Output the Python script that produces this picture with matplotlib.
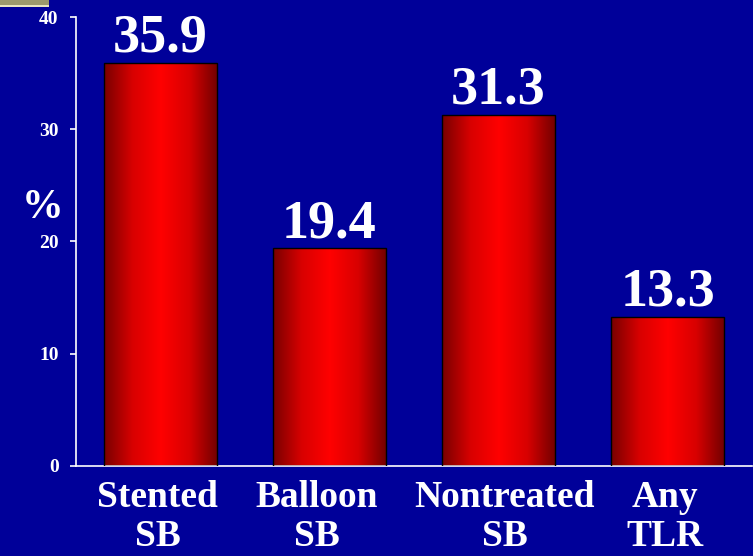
import numpy as np
import matplotlib.pyplot as plt
from matplotlib.patches import Rectangle
from matplotlib.colors import LinearSegmentedColormap
from matplotlib.transforms import ScaledTranslation

categories = ["Stented\nSB", "Balloon\nSB", "Nontreated\nSB", "Any\nTLR"]
values = [35.9, 19.4, 31.3, 13.3]
yticks = [0, 10, 20, 30, 40]

bg = "#000099"
plt.rcParams['font.family'] = ['Liberation Serif', 'DejaVu Serif']
plt.rcParams['font.weight'] = 'bold'

fig = plt.figure(figsize=(7.53, 5.56), dpi=100, facecolor=bg)
ax = fig.add_axes([0.1009, 0.1619, 0.8978, 0.8075], facecolor=bg)

x = np.arange(len(values))
bars = ax.bar(x, values, width=0.67, color="none", edgecolor="black",
              linewidth=1.0, zorder=3)

# horizontal red shading inside each bar
red = LinearSegmentedColormap.from_list(
    "redbar", ["#780000", "#d80000", "#ff0000", "#d80000", "#700000"])
grad = np.linspace(0, 1, 256).reshape(1, -1)
for b in bars:
    x0, y0 = b.get_x(), b.get_y()
    w, h = b.get_width(), b.get_height()
    im = ax.imshow(grad, cmap=red, aspect="auto", extent=[x0, x0 + w, y0, y0 + h],
                   zorder=2, interpolation="bilinear")
    im.set_clip_path(b)

for xi, v in zip(x, values):
    ax.text(xi, v + 1.0, f"{v}", ha="center", va="baseline", color="white",
            fontsize=39, fontweight="bold")

ax.set_xlim(-0.5, 3.5)
ax.set_ylim(0, 40)
ax.set_yticks(yticks)
ax.set_yticklabels([str(t) for t in yticks], fontsize=14, fontweight="bold", color="white")
ax.tick_params(axis="y", colors="white", length=4.5, width=1.2, direction="out", pad=8)
ax.set_xticks(x)
ax.set_xticklabels(categories, fontsize=27, fontweight="bold", color="white",
                   linespacing=1.15)
ax.tick_params(axis="x", length=0, pad=10)

# nudge the category labels sideways a little (in pixels)
shifts = [-3, -13, 6, -3]
for lab, dx in zip(ax.get_xticklabels(), shifts):
    lab.set_transform(lab.get_transform() + ScaledTranslation(dx / 100, 0, fig.dpi_scale_trans))

for s in ["top", "right"]:
    ax.spines[s].set_visible(False)
for s in ["left", "bottom"]:
    ax.spines[s].set_color("white")
    ax.spines[s].set_linewidth(1.2)

ax.text(-0.050, 0.575, "%", transform=ax.transAxes, ha="center", va="center",
        fontsize=30, fontweight="bold", color="white")

# small banner strip in the top-left corner
fig.add_artist(Rectangle((0, 1 - 6 / 556), 49 / 753, 6 / 556, transform=fig.transFigure,
                         facecolor="#9c9a6c", edgecolor="none"))
fig.add_artist(Rectangle((0, 1 - 7 / 556), 49 / 753, 2 / 556, transform=fig.transFigure,
                         facecolor="#e8e6c0", edgecolor="none"))

fig.savefig("out.png", dpi=100, facecolor=bg)
